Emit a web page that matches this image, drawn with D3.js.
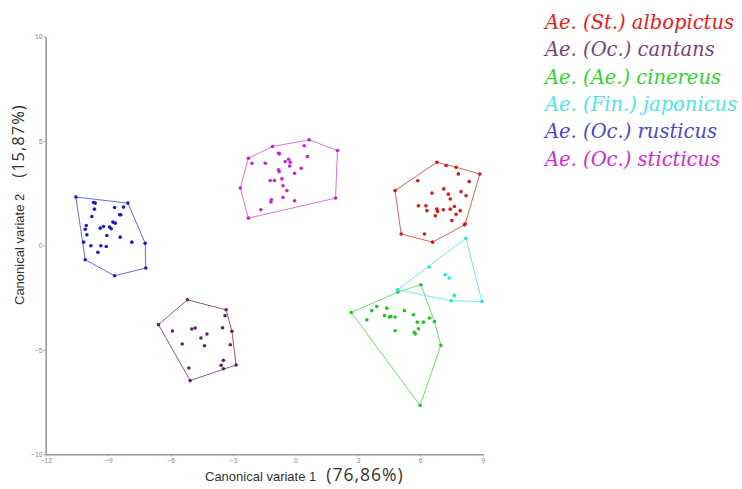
<!DOCTYPE html>
<html>
<head>
<meta charset="utf-8">
<script src="https://cdn.jsdelivr.net/npm/d3@7"></script>
<style>
	body { margin: 0; background: #fff; }
	svg { display: block; }
</style>
</head>
<body>
<script>
"use strict";

// Canonical variate scores, one array per species [cv1, cv2]

let albopictus = [
	[6.80, 3.99], [7.24, 3.83], [7.72, 3.75], [8.86, 3.42], [8.16, 1.04], [6.59, 0.16],
	[5.08, 0.55], [4.79, 2.63], [5.88, 3.10], [7.83, 3.43], [8.35, 3.06], [7.13, 2.71],
	[6.56, 2.51], [7.35, 2.46], [7.96, 2.58], [8.20, 2.38], [7.44, 2.23], [5.91, 1.90],
	[6.27, 1.90], [6.32, 1.67], [6.80, 1.74], [6.83, 1.63], [7.11, 1.71], [7.44, 1.74],
	[7.64, 1.87], [7.92, 1.67], [7.72, 1.50], [6.72, 1.42], [7.52, 1.20], [6.20, 0.55],
	[8.12, 0.99]
];

let cantans = [
	[-5.19, -2.60], [-3.33, -3.08], [-2.85, -5.72], [-5.06, -6.47], [-6.58, -3.79],
	[-3.38, -3.36], [-5.91, -4.10], [-4.98, -4.00], [-4.82, -3.95], [-3.50, -3.94],
	[-3.05, -4.11], [-4.25, -4.24], [-4.54, -4.43], [-5.44, -4.72], [-4.37, -4.80],
	[-3.13, -4.75], [-3.46, -5.50], [-3.57, -5.74], [-3.46, -5.90], [-5.12, -5.87]
];

let cinereus = [
	[6.03, -1.88], [6.99, -4.78], [5.99, -7.66], [2.68, -3.21], [4.92, -2.23], [6.68, -3.64],
	[3.67, -3.12], [3.91, -2.92], [4.39, -3.00], [3.43, -3.56], [4.28, -3.36], [4.52, -3.43],
	[4.59, -3.40], [4.79, -3.43], [5.24, -3.12], [5.67, -3.32], [5.86, -3.67], [6.15, -3.67],
	[6.44, -3.47], [5.91, -3.99], [4.79, -4.08], [5.71, -4.16], [5.76, -4.24]
];

let japonicus = [
	[8.19, 0.35], [8.96, -2.68], [7.48, -2.65], [4.91, -2.12],
	[6.43, -1.03], [7.20, -1.40], [7.39, -1.56], [7.64, -2.39]
];

let rusticus = [
	[-10.55, 2.32], [-8.05, 2.03], [-7.22, 0.11], [-7.19, -1.08], [-8.69, -1.45],
	[-10.10, -0.68], [-10.18, 0.16], [-9.70, 2.06], [-9.62, 2.03], [-9.66, 1.74],
	[-8.69, 1.82], [-8.26, 1.84], [-9.78, 1.39], [-8.45, 1.47], [-8.39, 1.47],
	[-10.05, 0.96], [-10.10, 0.78], [-10.02, 0.51], [-9.38, 0.83], [-9.22, 0.91],
	[-8.93, 0.88], [-8.85, 0.80], [-8.77, 1.12], [-8.66, 1.07], [-9.06, 0.48],
	[-8.42, 0.40], [-7.86, 0.16], [-9.83, -0.01], [-9.35, -0.01], [-9.09, -0.05],
	[-9.49, -0.32]
];

let sticticus = [
	[0.66, 5.06], [2.02, 4.55], [1.93, 2.27], [-2.26, 1.31], [-2.65, 2.75], [-2.26, 4.18],
	[-1.10, 4.74], [-0.81, 4.42], [-0.77, 4.39], [0.42, 4.78], [0.58, 4.26], [-2.09, 3.94],
	[-1.45, 3.94], [-0.49, 4.02], [-0.33, 4.13], [-0.25, 3.99], [-0.28, 3.81], [-0.81, 3.62],
	[-0.78, 3.54], [0.28, 3.70], [-0.04, 3.46], [-0.65, 3.19], [-1.21, 3.11], [-1.01, 3.11],
	[-0.60, 2.86], [-0.41, 2.63], [-0.60, 2.30], [-0.04, 2.14], [-1.16, 2.19], [-1.18, 2.08],
	[-1.66, 1.71]
];

let speciesNames = [
	["Ae. (St.) ", "albopictus"],
	["Ae. (Oc.) ", "cantans"],
	["Ae. (Ae.) ", "cinereus"],
	["Ae. (Fin.) ", "japonicus"],
	["Ae. (Oc.) ", "rusticus"],
	["Ae. (Oc.) ", "sticticus"]
];

let xTicks = [-12, -9, -6, -3, 0, 3, 6, 9];
let yTicks = [-10, -5, 0, 5, 10];

let groups = [albopictus, cantans, cinereus, japonicus, rusticus, sticticus];

// colours: point, hull line, legend text
let pointColors  = ["#d81818", "#5a2a5a", "#1ec81e", "#2ce0e0", "#1a1ad0", "#d020d0"];
let lineColors   = ["#e06060", "#8a5a8a", "#70dc70", "#70eaea", "#6a6ae0", "#e070e0"];
let legendColors = ["#f01818", "#7a3f86", "#2ed42e", "#4ee6e6", "#4848d0", "#d428d4"];


function draw () {

	let width = 742,
		height = 489;

	let svg = d3.select("body")
		.append("svg")
			.attr("width", width)
			.attr("height", height);

	let xScale = d3.scaleLinear()
		.domain([-12, 9])
		.range([45.7, 482.7]);

	let yScale = d3.scaleLinear()
		.domain([-10, 10])
		.range([454.3, 36.7]);

	// axes

	let xAxis = svg.append("g")
		.attr("transform", "translate(0," + yScale(-10) + ")")
		.call(d3.axisBottom(xScale).tickValues(xTicks).tickSize(2).tickSizeOuter(0));

	let yAxis = svg.append("g")
		.attr("transform", "translate(" + xScale(-12) + ",0)")
		.call(d3.axisLeft(yScale).tickValues(yTicks).tickSize(2).tickSizeOuter(0));

	[xAxis, yAxis].forEach(function (ax) {
		ax.select(".domain").attr("stroke", "#9a9a9a").attr("stroke-width", 1.6);
		ax.selectAll(".tick line").attr("stroke", "#9a9a9a");
		ax.selectAll(".tick text")
			.attr("fill", "#8a8a8a")
			.style("font-family", "Liberation Sans, Arial, sans-serif")
			.style("font-size", "7px");
	});
	xAxis.selectAll(".tick text").attr("y", 3).attr("dy", "0.75em");
	yAxis.selectAll(".tick text").attr("x", -3);

	// hulls and points

	for (let i = 0; i < groups.length; i++) {

		let pts = groups[i].map(function (d) { return [xScale(d[0]), yScale(d[1])]; });
		let hull = d3.polygonHull(pts);

		svg.append("path")
			.attr("d", "M" + hull.join("L") + "Z")
			.attr("fill", "none")
			.attr("stroke", lineColors[i])
			.attr("stroke-width", 1);

		svg.selectAll(".pt" + i)
			.data(groups[i])
			.enter()
			.append("circle")
				.attr("class", "pt" + i)
				.attr("cx", function (d) { return xScale(d[0]); })
				.attr("cy", function (d) { return yScale(d[1]); })
				.attr("r", 1.8)
				.attr("fill", pointColors[i]);
	}

	// axis titles

	let xTitle = svg.append("text")
		.attr("x", 205)
		.attr("y", 481)
		.attr("fill", "#333");
	xTitle.append("tspan")
		.style("font-family", "Liberation Sans, Arial, sans-serif")
		.style("font-size", "13px")
		.text("Canonical variate 1");
	xTitle.append("tspan")
		.attr("dx", 10)
		.style("font-family", "Open Sans, sans-serif")
		.style("font-size", "17.5px")
		.style("letter-spacing", "1px")
		.text("(76,86%)");

	let yTitle = svg.append("text")
		.attr("transform", "translate(24,305) rotate(-90)")
		.attr("fill", "#333");
	yTitle.append("tspan")
		.style("font-family", "Liberation Sans, Arial, sans-serif")
		.style("font-size", "13px")
		.text("Canonical variate 2");
	yTitle.append("tspan")
		.attr("dx", 16)
		.style("font-family", "Open Sans, sans-serif")
		.style("font-size", "16.5px")
		.style("letter-spacing", "1px")
		.text("(15,87%)");

	// legend

	let legend = svg.selectAll(".legend")
		.data(speciesNames)
		.enter()
		.append("text")
			.attr("class", "legend")
			.attr("x", 545)
			.attr("y", function (d, i) { return 29 + i * 27.3; })
			.attr("fill", function (d, i) { return legendColors[i]; })
			.style("font-family", "DejaVu Serif, serif")
			.style("font-style", "italic")
			.style("font-size", "19.5px");

	legend.append("tspan").text(function (d) { return d[0]; });
	legend.append("tspan").text(function (d) { return d[1]; });
};

draw();
</script>
</body>
</html>
